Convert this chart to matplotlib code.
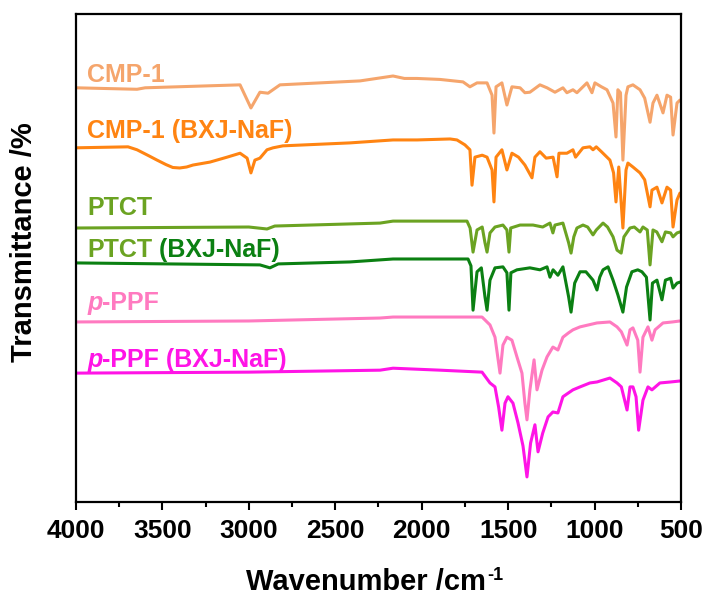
import matplotlib
matplotlib.use('Agg')
import matplotlib.pyplot as plt
from matplotlib.ticker import MultipleLocator

plt.rcParams['font.family'] = ['Liberation Sans', 'DejaVu Sans']
plt.rcParams['font.weight'] = 'bold'

# ---------------- data (wavenumber / cm-1, stacked transmittance a.u.) -------------
wn_cmp1 = [4000, 3647, 3600, 3051, 2988, 2936, 2889, 2820, 2357, 2166, 2100, 2027, 1894,
           1761, 1721, 1680, 1622, 1593, 1582, 1570, 1536, 1507, 1478, 1431, 1403, 1374,
           1316, 1275, 1229, 1183, 1160, 1125, 1102, 1044, 1015, 998, 960, 928, 893, 876,
           865, 850, 836, 818, 807, 778, 737, 710, 679, 662, 639, 604, 581, 560, 546, 523, 506]
t_cmp1 = [85.0, 84.7, 85.0, 85.6, 80.9, 84.1, 83.9, 85.6, 86.4, 87.4, 86.9, 86.9, 86.7,
          86.2, 85.2, 86.0, 86.0, 83.5, 75.8, 85.2, 86.0, 81.5, 85.2, 85.0, 84.0, 84.1,
          85.6, 85.0, 84.1, 85.0, 84.0, 84.6, 84.0, 86.0, 84.0, 86.0, 85.2, 84.6, 81.9, 75.0,
          84.6, 84.0, 70.3, 83.5, 85.2, 85.6, 84.6, 82.9, 78.0, 81.9, 83.5, 79.9, 83.5, 83.1,
          75.4, 81.9, 82.5]

wn_cmp1_naf = [4000, 3699, 3647, 3580, 3531, 3480, 3440, 3400, 3360, 3323, 3225, 3126, 3051,
               3010, 2988, 2965, 2936, 2895, 2860, 2803, 2415, 2166, 2027, 1836, 1796, 1750,
               1721, 1709, 1692, 1650, 1622, 1593, 1582, 1570, 1536, 1507, 1478, 1440, 1403,
               1362, 1345, 1316, 1280, 1240, 1217, 1206, 1160, 1125, 1110, 1067, 1027, 1009,
               990, 960, 911, 890, 876, 860, 836, 818, 807, 778, 737, 710, 679, 668, 639, 610,
               581, 560, 546, 523, 506]
t_cmp1_naf = [72.8, 73.0, 72.4, 71.2, 70.3, 69.4, 68.8, 68.7, 68.9, 69.3, 69.9, 70.9, 71.7,
              70.7, 67.7, 70.3, 70.7, 72.4, 72.8, 73.2, 73.8, 74.4, 74.4, 74.6, 74.4, 73.4,
              72.4, 65.2, 70.9, 71.3, 70.9, 68.3, 61.8, 70.9, 72.4, 68.3, 71.7, 70.9, 69.3,
              66.7, 70.9, 72.0, 70.7, 70.9, 66.9, 71.7, 71.7, 72.4, 70.9, 72.8, 73.0, 72.4,
              73.0, 72.0, 70.3, 67.7, 61.8, 68.9, 56.5, 68.3, 69.7, 68.9, 67.7, 66.3, 60.8,
              64.2, 64.8, 61.6, 64.8, 64.2, 56.7, 62.2, 63.6]

wn_ptct = [4000, 3000, 2895, 2850, 2241, 2166, 1894, 1738, 1720, 1703, 1680, 1650, 1634, 1622,
           1605, 1576, 1530, 1507, 1495, 1485, 1431, 1356, 1300, 1258, 1241, 1229, 1183, 1150,
           1136, 1120, 1102, 1067, 1040, 1009, 990, 951, 925, 893, 870, 846, 830, 795, 770, 737,
           720, 695, 679, 662, 640, 610, 590, 560, 546, 523, 506]
t_ptct = [56.5, 56.7, 56.3, 56.9, 57.5, 57.9, 57.9, 57.9, 56.5, 51.6, 56.1, 56.7, 53.5, 51.6,
          55.5, 56.7, 57.1, 56.1, 51.6, 56.5, 57.1, 57.1, 56.7, 57.5, 55.5, 57.1, 57.5, 53.5,
          51.4, 54.7, 56.5, 57.1, 56.7, 55.1, 56.1, 57.5, 56.7, 54.7, 52.0, 51.4, 54.7, 56.5,
          56.7, 55.7, 56.7, 56.1, 49.0, 56.1, 55.7, 53.7, 55.7, 55.5, 54.7, 55.5, 55.7]

wn_ptct_naf = [4000, 2936, 2878, 2830, 2415, 2166, 1894, 1732, 1715, 1703, 1680, 1655, 1634,
               1622, 1605, 1576, 1530, 1507, 1495, 1484, 1449, 1374, 1316, 1275, 1258, 1240,
               1212, 1183, 1150, 1136, 1115, 1084, 1050, 1009, 986, 970, 951, 922, 893, 865, 836,
               815, 784, 750, 726, 700, 679, 665, 639, 610, 590, 560, 546, 523, 506]
t_ptct_naf = [49.4, 49.0, 48.4, 49.2, 49.6, 50.2, 50.2, 50.2, 48.8, 39.8, 47.6, 48.4, 42.5,
              39.8, 45.9, 48.4, 48.6, 47.4, 39.8, 47.4, 48.0, 48.4, 48.0, 48.6, 46.5, 48.0,
              46.9, 48.6, 42.5, 39.4, 45.3, 47.6, 47.6, 45.9, 43.9, 46.5, 48.0, 48.6, 45.9, 42.9,
              39.4, 44.5, 47.6, 48.0, 47.6, 46.5, 37.8, 45.3, 45.9, 41.9, 45.9, 46.3, 44.3, 45.3,
              45.5]

wn_ppf = [4000, 3000, 2241, 2166, 1894, 1651, 1605, 1576, 1547, 1530, 1507, 1478, 1449, 1420,
          1403, 1391, 1374, 1350, 1333, 1304, 1275, 1241, 1212, 1183, 1150, 1125, 1084, 986,
          911, 870, 845, 812, 795, 778, 750, 737, 720, 691, 668, 650, 604, 550, 506]
t_ppf = [37.4, 37.6, 38.2, 38.4, 38.4, 38.4, 36.8, 34.3, 27.0, 32.7, 34.3, 33.7, 30.3, 27.0,
         20.9, 17.5, 23.6, 29.7, 23.6, 27.6, 30.3, 32.3, 31.7, 34.3, 35.2, 35.8, 36.4, 37.2,
         37.4, 36.4, 35.4, 32.7, 35.8, 36.2, 33.7, 27.2, 34.3, 36.4, 33.7, 35.8, 37.2, 37.4, 37.6]

wn_ppf_naf = [4000, 3000, 2241, 2166, 1894, 1651, 1605, 1576, 1555, 1536, 1518, 1501, 1472,
              1443, 1414, 1391, 1370, 1345, 1327, 1300, 1269, 1241, 1212, 1183, 1150, 1125,
              1084, 1027, 986, 911, 870, 845, 812, 795, 778, 760, 745, 720, 691, 668, 622, 560, 506]
t_ppf_naf = [27.0, 27.2, 27.6, 28.0, 27.6, 27.2, 25.0, 24.2, 20.1, 15.4, 20.9, 22.2, 20.9,
             16.9, 12.2, 5.9, 12.8, 16.5, 11.0, 14.8, 18.1, 19.1, 18.9, 22.2, 23.0, 23.6,
             24.2, 25.0, 25.2, 26.0, 25.0, 24.2, 19.5, 24.2, 24.2, 22.2, 15.4, 21.5, 24.2, 23.6,
             25.0, 25.2, 25.4]

x_ticks = [4000, 3500, 3000, 2500, 2000, 1500, 1000, 500]

c_cmp1 = '#F5A56C'
c_cmp1_naf = '#FF8412'
c_ptct = '#6BA322'
c_ptct_naf = '#0B8012'
c_ppf = '#FF7AC0'
c_ppf_naf = '#FF14E6'

# ---------------- figure -------------------
fig = plt.figure(figsize=(7.07, 5.96), dpi=100)
ax = fig.add_axes([0.1075, 0.1577, 0.8557, 0.8188])

series = [(wn_cmp1, t_cmp1, c_cmp1), (wn_cmp1_naf, t_cmp1_naf, c_cmp1_naf),
          (wn_ptct, t_ptct, c_ptct), (wn_ptct_naf, t_ptct_naf, c_ptct_naf),
          (wn_ppf, t_ppf, c_ppf), (wn_ppf_naf, t_ppf_naf, c_ppf_naf)]
for w, t, c in series:
    ax.plot(w, t, color=c, lw=2.2, solid_joinstyle='round', solid_capstyle='round')

ax.set_xlim(4000, 500)
ax.set_ylim(0.8, 100)
ax.set_yticks([])
ax.set_xticks(x_ticks)
ax.set_xticklabels([str(v) for v in x_ticks])
ax.xaxis.set_minor_locator(MultipleLocator(250))
ax.tick_params(axis='x', which='major', direction='out', length=6, width=1.5,
               labelsize=19, pad=6)
ax.tick_params(axis='x', which='minor', direction='out', length=3.5, width=1.5)
for sp in ax.spines.values():
    sp.set_linewidth(1.6)

fs = 18
x0 = 3936
ax.text(x0, 86.2, 'CMP-1', color=c_cmp1, fontsize=fs, fontweight='bold', va='baseline')
ax.text(x0, 74.8, 'CMP-1 (BXJ-NaF)', color=c_cmp1_naf, fontsize=fs, fontweight='bold',
        va='baseline')
ax.text(x0, 59.1, 'PTCT', color=c_ptct, fontsize=fs, fontweight='bold', va='baseline')
t1 = ax.text(x0, 50.6, 'PTCT', color=c_ptct, fontsize=fs, fontweight='bold', va='baseline')
ax.annotate(' (BXJ-NaF)', xy=(1, 0), xycoords=t1, va='bottom', ha='left',
            color=c_ptct_naf, fontsize=fs, fontweight='bold')
t2 = ax.text(x0, 39.8, 'p', color=c_ppf, fontsize=fs, fontweight='bold', style='italic',
             va='baseline')
ax.annotate('-PPF', xy=(1, 0), xycoords=t2, va='bottom', ha='left',
            color=c_ppf, fontsize=fs, fontweight='bold')
t3 = ax.text(x0, 28.3, 'p', color=c_ppf_naf, fontsize=fs, fontweight='bold', style='italic',
             va='baseline')
ax.annotate('-PPF (BXJ-NaF)', xy=(1, 0), xycoords=t3, va='bottom', ha='left',
            color=c_ppf_naf, fontsize=fs, fontweight='bold')

fig.text(24 / 707, 1 - 242 / 596, 'Transmittance /%', rotation=90, fontsize=21,
         fontweight='bold', ha='center', va='center')
xl = fig.text(246 / 707, 6 / 596, 'Wavenumber /cm', fontsize=21, fontweight='bold',
              ha='left', va='baseline')
ax.annotate('-1', xy=(1, 1), xycoords=xl, xytext=(1, 1), textcoords='offset points',
            va='top', ha='left', fontsize=13, fontweight='bold', annotation_clip=False)

fig.savefig('out.png', dpi=100)
